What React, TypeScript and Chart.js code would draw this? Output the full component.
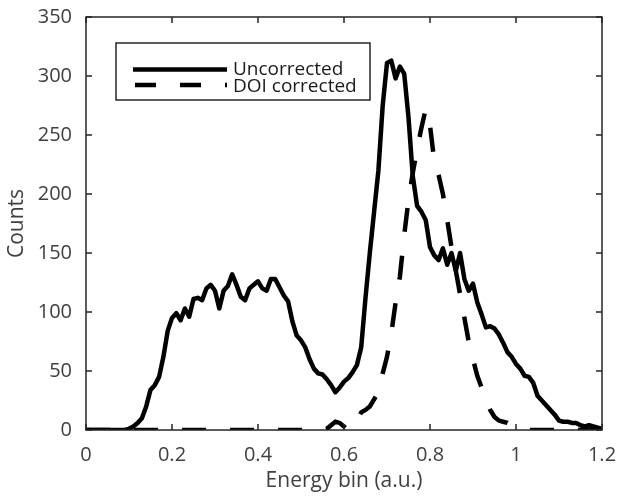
import React, { useEffect, useRef } from "react";
import { Chart, registerables } from "chart.js";
Chart.register(...registerables);

// Energy bins (a.u.), 0 to 1.2 in steps of 0.01
const energyBins: number[] = Array.from({ length: 121 }, (_, i) => i / 100);

const uncorrected: number[] = [
  0, 0, 0, 0, 0, 0, 0, 0, 0, 0, 1,
  3, 6, 10, 20, 34, 38, 45, 62, 84, 95,
  99, 93, 103, 96, 111, 112, 110, 120, 123, 118,
  103, 118, 122, 132, 123, 113, 110, 120, 123, 126,
  120, 118, 128, 128, 121, 114, 109, 92, 80, 76,
  70, 60, 52, 48, 47, 43, 38, 32, 36, 41,
  44, 49, 55, 70, 112, 150, 185, 220, 275, 311,
  313, 298, 308, 302, 265, 215, 190, 185, 178, 155,
  148, 144, 154, 140, 150, 135, 150, 128, 118, 124,
  108, 98, 87, 88, 86, 81, 74, 66, 62, 56,
  52, 46, 45, 40, 29, 25, 21, 17, 13, 8,
  7, 7, 6, 6, 4, 3, 4, 3, 2, 1,
];

const doiCorrected: number[] = [
  0, 0, 0, 0, 0, 0, 0, 0, 0, 0, 0,
  0, 0, 0, 0, 0, 0, 0, 0, 0, 0,
  0, 0, 0, 0, 0, 0, 0, 0, 0, 0,
  0, 0, 0, 0, 0, 0, 0, 0, 0, 0,
  0, 0, 0, 0, 0, 0, 0, 0, 0, 0,
  0, 0, 0, 0, 0, 1, 4, 7, 6, 3,
  0, 2, 8, 15, 17, 20, 26, 32, 48, 62,
  82, 108, 130, 165, 195, 218, 238, 256, 272, 258,
  228, 216, 200, 178, 155, 135, 115, 95, 75, 60,
  46, 36, 26, 17, 11, 8, 7, 6, 4, 2,
  1, 0, 0, 0, 0, 0, 0, 0, 0, 0,
  0, 0, 0, 0, 0, 0, 0, 0, 0, 0,
];

const xTicks: number[] = [0, 0.2, 0.4, 0.6, 0.8, 1, 1.2];
const yTicks: number[] = [0, 50, 100, 150, 200, 250, 300, 350];
const seriesLabels: string[] = ["Uncorrected", "DOI corrected"];
const xTitle = "Energy bin (a.u.)";
const yTitle = "Counts";

const FONT = "'Open Sans', 'Noto Sans', sans-serif";
const AXIS_COLOR = "#262626";
const TEXT_COLOR = "#404040";
const DASH = [24, 24];
const LW = 4.5;

const boxPlugin = {
  id: "matlabBox",
  afterDatasetsDraw(chart: any) {
    const { ctx, chartArea } = chart;
    const { left, right, top, bottom } = chartArea;
    const xs = chart.scales.x;
    const ys = chart.scales.y;
    ctx.save();
    ctx.strokeStyle = AXIS_COLOR;
    ctx.lineWidth = 1.5;
    ctx.setLineDash([]);
    ctx.strokeRect(left, top, right - left, bottom - top);
    const tl = 6;
    ctx.beginPath();
    xTicks.forEach((v) => {
      const px = xs.getPixelForValue(v);
      ctx.moveTo(px, bottom);
      ctx.lineTo(px, bottom - tl);
      ctx.moveTo(px, top);
      ctx.lineTo(px, top + tl);
    });
    yTicks.forEach((v) => {
      const py = ys.getPixelForValue(v);
      ctx.moveTo(left, py);
      ctx.lineTo(left + tl, py);
      ctx.moveTo(right, py);
      ctx.lineTo(right - tl, py);
    });
    ctx.stroke();

    // legend box
    const bx = 116, by = 43, bw = 254, bh = 57;
    ctx.fillStyle = "#ffffff";
    ctx.fillRect(bx, by, bw, bh);
    ctx.strokeStyle = "#262626";
    ctx.lineWidth = 1.5;
    ctx.strokeRect(bx, by, bw, bh);
    ctx.lineWidth = LW;
    ctx.strokeStyle = "#000000";
    ctx.beginPath();
    ctx.moveTo(133, 69.5);
    ctx.lineTo(227, 69.5);
    ctx.stroke();
    ctx.setLineDash([21, 24]);
    ctx.beginPath();
    ctx.moveTo(135, 85);
    ctx.lineTo(227, 85);
    ctx.stroke();
    ctx.setLineDash([]);
    ctx.fillStyle = "#1a1a1a";
    ctx.font = `19px ${FONT}`;
    ctx.textBaseline = "middle";
    ctx.textAlign = "left";
    ctx.fillText(seriesLabels[0], 233, 70);
    ctx.fillText(seriesLabels[1], 233, 87);
    ctx.restore();
  },
};

export default function App() {
  const ref = useRef<HTMLCanvasElement | null>(null);
  useEffect(() => {
    if (!ref.current) return;
    const chart = new Chart(ref.current, {
      type: "line",
      data: {
        datasets: [
          {
            label: seriesLabels[0],
            data: energyBins.map((x, i) => ({ x, y: uncorrected[i] })),
            borderColor: "#000000",
            borderWidth: LW,
            pointRadius: 0,
            tension: 0,
            borderJoinStyle: "round",
            fill: false,
          },
          {
            label: seriesLabels[1],
            data: energyBins.map((x, i) => ({ x, y: doiCorrected[i] })),
            borderColor: "#000000",
            borderWidth: LW,
            borderDash: DASH,
            pointRadius: 0,
            tension: 0,
            fill: false,
          },
        ],
      },
      options: {
        responsive: false,
        animation: false,
        layout: { padding: { left: 0, right: 16, top: 17, bottom: 0 } },
        plugins: { legend: { display: false }, tooltip: { enabled: false } },
        scales: {
          x: {
            type: "linear",
            min: 0,
            max: 1.2,
            grid: { display: false, drawTicks: false },
            border: { display: false },
            afterBuildTicks: (s: any) => {
              s.ticks = xTicks.map((v) => ({ value: v }));
            },
            afterFit: (s: any) => {
              s.height = 67;
              s.paddingLeft = 0;
              s.paddingRight = 0;
            },
            ticks: {
              padding: 13,
              color: TEXT_COLOR,
              font: { family: FONT, size: 20 },
              maxRotation: 0,
              callback: (v: any) => String(Number(Number(v).toFixed(1))),
            },
            title: {
              display: true,
              text: xTitle,
              color: TEXT_COLOR,
              font: { family: FONT, size: 21 },
              padding: { top: 0, bottom: 3 },
            },
          },
          y: {
            min: 0,
            max: 350,
            grid: { display: false, drawTicks: false },
            border: { display: false },
            afterBuildTicks: (s: any) => {
              s.ticks = yTicks.map((v) => ({ value: v }));
            },
            afterFit: (s: any) => {
              s.width = 86;
              s.paddingTop = 0;
              s.paddingBottom = 0;
            },
            ticks: {
              padding: 14,
              color: TEXT_COLOR,
              font: { family: FONT, size: 20 },
            },
            title: {
              display: true,
              text: yTitle,
              color: TEXT_COLOR,
              font: { family: FONT, size: 21 },
              padding: { top: 4, bottom: 0 },
            },
          },
        },
      },
      plugins: [boxPlugin],
    } as any);
    return () => chart.destroy();
  }, []);
  return (
    <div style={{ position: "fixed", left: 0, top: 0, width: 618, height: 497, background: "#fff" }}>
      <canvas ref={ref} width={618} height={497} style={{ display: "block" }} />
    </div>
  );
}
